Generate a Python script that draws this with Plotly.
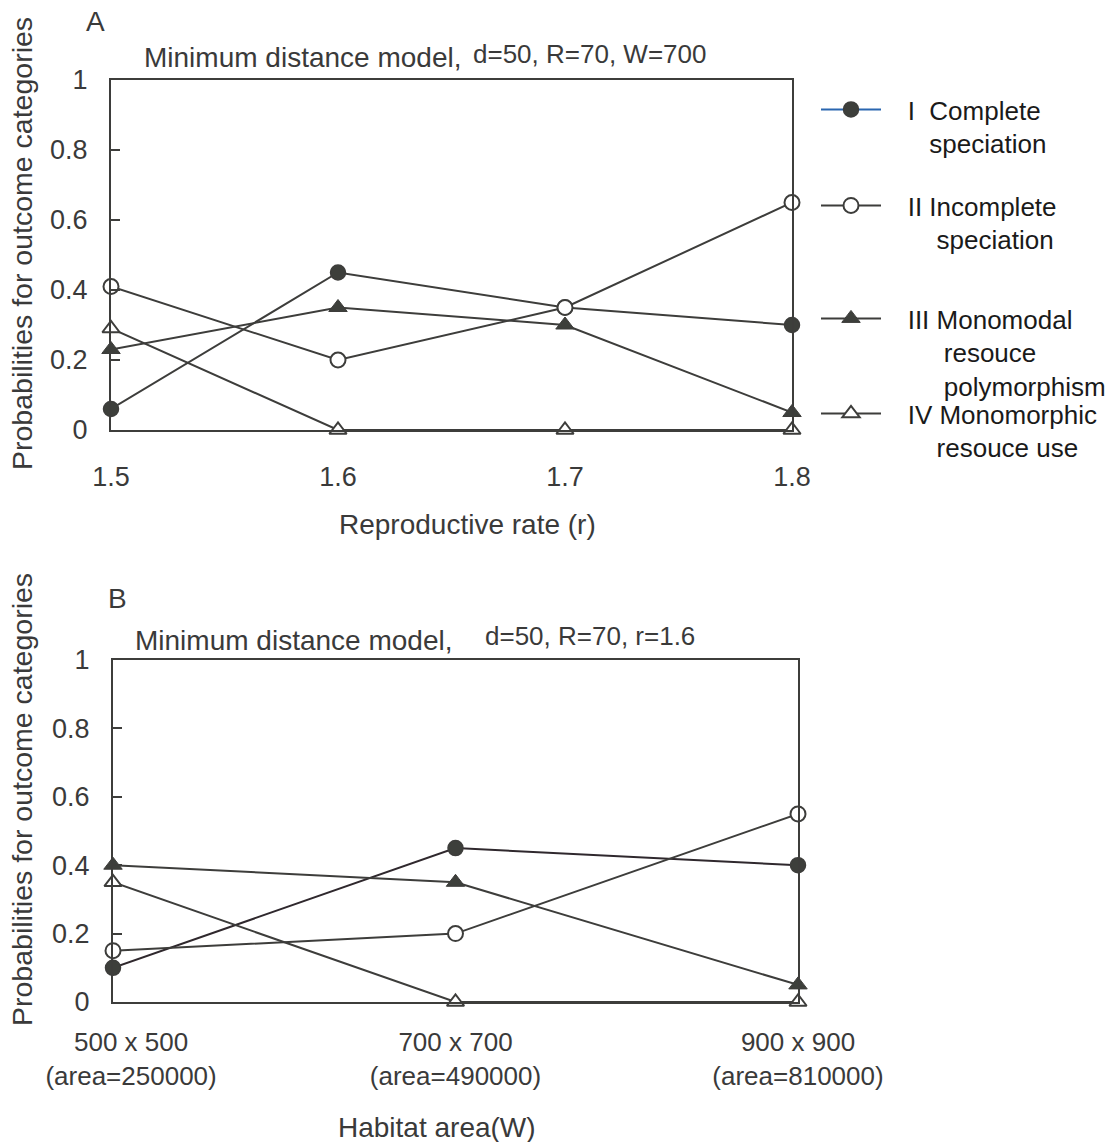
import plotly.graph_objects as go

W, H = 1115, 1142

# ---------- data ----------
r_values = [1.5, 1.6, 1.7, 1.8]
r_ticktext = ["1.5", "1.6", "1.7", "1.8"]
a_complete = [0.06, 0.45, 0.35, 0.30]
a_incomplete = [0.41, 0.20, 0.35, 0.65]
a_monomodal = [0.23, 0.35, 0.30, 0.05]
a_monomorphic = [0.29, 0.00, 0.00, 0.00]

NB = "\u00a0"
area_labels = [NB * 5 + "500 x 500<br>" + NB * 5 + "(area=250000)",
               "700 x 700<br>(area=490000)",
               "900 x 900<br>(area=810000)"]
area_pos = [0, 1, 2]
b_complete = [0.10, 0.45, 0.40]
b_incomplete = [0.15, 0.20, 0.55]
b_monomodal = [0.40, 0.35, 0.05]
b_monomorphic = [0.35, 0.00, 0.00]

y_tickvals = [0, 0.2, 0.4, 0.6, 0.8, 1]
y_ticktext = ["0", "0.2", "0.4", "0.6", "0.8", "1"]

legend_names = [
    NB * 3 + "I" + NB * 2 + "Complete<br>" + NB * 6 + "speciation",
    NB * 3 + "II Incomplete<br>" + NB * 7 + "speciation",
    NB * 3 + "III Monomodal<br>" + NB * 8 + "resouce<br>" + NB * 8 + "polymorphism",
    NB * 3 + "IV Monomorphic<br>" + NB * 7 + "resouce use",
]

# ---------- styling ----------
FONT = "Liberation Sans, Arial, sans-serif"
TXT = "#3a3a3a"
LINE = "#3d3d3b"
FILL = "#3d3f3b"

def px_x(p):
    return p / W

def px_y(p):
    return 1 - p / H

styles = [
    dict(symbol="circle", size=15, color=FILL, line=dict(color=LINE, width=1.5)),
    dict(symbol="circle", size=15, color="white", line=dict(color=LINE, width=2)),
    dict(symbol="triangle-up", size=16, color=FILL, line=dict(color=LINE, width=1)),
    dict(symbol="triangle-up", size=15, color="white", line=dict(color=LINE, width=2)),
]
line_colors = ["#2a66b0", LINE, LINE, LINE]

fig = go.Figure()

a_series = [a_complete, a_incomplete, a_monomodal, a_monomorphic]
b_series = [b_complete, b_incomplete, b_monomodal, b_monomorphic]
legend_ids = ["legend", "legend2", "legend3", "legend4"]

for i, ys in enumerate(a_series):
    fig.add_trace(go.Scatter(
        x=r_values, y=ys, mode="lines+markers", name=legend_names[i],
        line=dict(color=LINE, width=2), marker=styles[i], cliponaxis=False,
        xaxis="x", yaxis="y", showlegend=False,
    ))

# legend entries (no data drawn)
for i, ys in enumerate(a_series):
    fig.add_trace(go.Scatter(
        x=[None], y=[None], mode="lines+markers", name=legend_names[i],
        line=dict(color=line_colors[i], width=2), marker=styles[i],
        xaxis="x", yaxis="y", legend=legend_ids[i], showlegend=True,
    ))

b_line_colors = ["#2f282d", LINE, LINE, LINE]
for i, ys in enumerate(b_series):
    fig.add_trace(go.Scatter(
        x=area_pos, y=ys, mode="lines+markers",
        line=dict(color=b_line_colors[i], width=2), marker=styles[i], cliponaxis=False,
        xaxis="x2", yaxis="y2", showlegend=False,
    ))

axis_common = dict(showline=True, mirror=True, linecolor=LINE, linewidth=2,
                   showgrid=False, zeroline=False, automargin=False,
                   tickfont=dict(family=FONT, size=27, color=TXT))

fig.update_layout(
    template="none",
    width=W, height=H, margin=dict(l=0, r=0, t=0, b=0, autoexpand=False),
    paper_bgcolor="white", plot_bgcolor="white",
    font=dict(family=FONT, color=TXT),
    xaxis=dict(domain=[px_x(111), px_x(792)], range=[1.5, 1.8], tickvals=r_values,
               ticktext=r_ticktext, ticks="", ticklabelstandoff=22, anchor="y", **axis_common),
    yaxis=dict(domain=[px_y(430), px_y(80)], range=[0, 1], tickvals=y_tickvals,
               ticktext=y_ticktext, ticks="inside", ticklen=9, tickwidth=2, tickcolor=LINE,
               ticklabelstandoff=16, anchor="x", **axis_common),
    xaxis2=dict(domain=[px_x(113), px_x(798)], range=[0, 2], tickvals=area_pos,
                ticktext=area_labels, ticks="", ticklabelstandoff=16, anchor="y2",
                **{**axis_common, "tickfont": dict(family=FONT, size=26, color=TXT)}),
    yaxis2=dict(domain=[px_y(1002), px_y(660)], range=[0, 1], tickvals=y_tickvals,
                ticktext=y_ticktext, ticks="inside", ticklen=9, tickwidth=2, tickcolor=LINE,
                ticklabelstandoff=16, anchor="x2", **axis_common),
)

legend_tops = [86, 182, 295, 390]
for lid, top in zip(legend_ids, legend_tops):
    fig.update_layout({lid: dict(
        x=px_x(816), y=px_y(top), xanchor="left", yanchor="top",
        bgcolor="rgba(0,0,0,0)", borderwidth=0, itemwidth=60, valign="top",
        font=dict(family=FONT, size=26, color="#1a1a1a"), tracegroupgap=0,
    )})

annos = [
    dict(text="A", x=px_x(95), y=px_y(22), size=28),
    dict(text="Minimum distance model,", x=px_x(142), y=px_y(57), size=28, xanchor="left"),
    dict(text="d=50, R=70, W=700", x=px_x(471), y=px_y(54), size=26, xanchor="left"),
    dict(text="Reproductive rate (r)", x=px_x(467), y=px_y(524), size=28),
    dict(text="B", x=px_x(117), y=px_y(598), size=28),
    dict(text="Minimum distance model,", x=px_x(133), y=px_y(640), size=28, xanchor="left"),
    dict(text="d=50, R=70, r=1.6", x=px_x(483), y=px_y(636), size=26, xanchor="left"),
    dict(text="Habitat area(W)", x=px_x(437), y=px_y(1127), size=28),
    dict(text="Probabilities for outcome categories", x=px_x(22), y=px_y(244), size=28.5, angle=-90),
    dict(text="Probabilities for outcome categories", x=px_x(22), y=px_y(800), size=28.5, angle=-90),
]
for a in annos:
    fig.add_annotation(
        text=a["text"], x=a["x"], y=a["y"], xref="paper", yref="paper",
        xanchor=a.get("xanchor", "center"), yanchor="middle", showarrow=False,
        textangle=a.get("angle", 0),
        font=dict(family=FONT, size=a["size"], color=TXT),
    )

fig.write_html("out.html")
